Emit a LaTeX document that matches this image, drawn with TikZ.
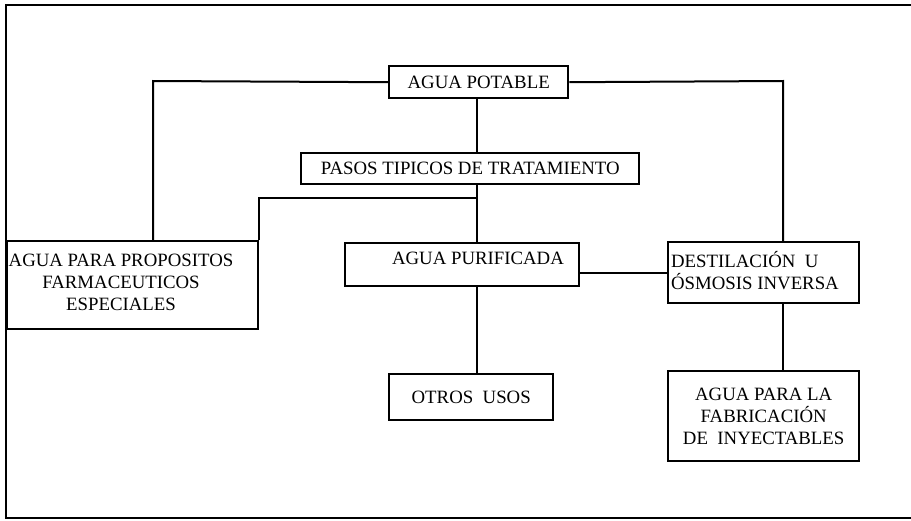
\documentclass[tikz,border=0pt]{standalone}
\usepackage{fontspec}
\setmainfont{Liberation Serif}
\begin{document}
\begin{tikzpicture}
 [x=0.5pt, y=-0.5pt, line width=1pt,
  every node/.style={font=\fontsize{9.4}{11}\selectfont},
  box/.style={draw, line width=1.2pt, anchor=north west, inner sep=0pt, align=center},
  txt/.style={inner sep=0pt}]

  \useasboundingbox (0,0) rectangle (911,520);
  \draw (911,5) -- (6,5) -- (6,518) -- (911,518);

  \node[box, minimum width=89.5pt, minimum height=16pt] at (388,65) (potable) {AGUA POTABLE};
  \node[box, minimum width=169pt, minimum height=15.5pt] at (300,152) (pasos) {PASOS TIPICOS DE TRATAMIENTO};
  \node[box, minimum width=125.5pt, minimum height=44pt] at (6,240) (proposito) {};
  \node[txt, align=center] at (121,282) (proposito-t) {AGUA PARA PROPOSITOS\\FARMACEUTICOS\\ESPECIALES};
  \node[box, minimum width=117pt, minimum height=21.5pt] at (344,242) (purif) {};
  \node[txt] at (478,258) (purif-t) {AGUA PURIFICADA};
  \node[box, minimum width=95.5pt, minimum height=30.5pt] at (667,241) (destil) {};
  \node[txt, align=left] at (755,271) (destil-t) {DESTILACIÓN~ U\\ÓSMOSIS INVERSA};
  \node[box, minimum width=82pt, minimum height=23pt] at (388,373) (otros) {OTROS~ USOS};
  \node[box, minimum width=95.5pt, minimum height=45pt] at (667,370) (fab) {AGUA PARA LA\\FABRICACIÓN\\DE~ INYECTABLES};

  \coordinate (jl) at (153,81);
  \coordinate (jr) at (783,81);
  \coordinate (jm) at (477,198);

  \draw (potable.west) -- (jl) -- (jl |- proposito.north);
  \draw (potable.east) -- (jr) -- (jr |- destil.north);
  \draw (jm |- potable.south) -- (jm |- pasos.north);
  \draw (jm |- pasos.south) -- (jm |- purif.north);
  \draw (jm) -| (proposito.north east);
  \draw (destil.west) -- (destil.west -| purif.east);
  \draw (jm |- purif.south) -- (jm |- otros.north);
  \draw (jr |- destil.south) -- (jr |- fab.north);
\end{tikzpicture}
\end{document}
